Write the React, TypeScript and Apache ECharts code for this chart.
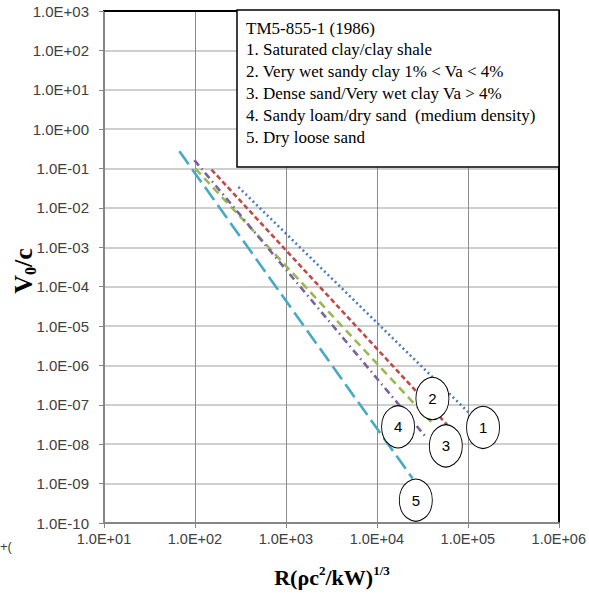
import React, { useEffect, useRef } from 'react';
import * as echarts from 'echarts';

// ---- Data ----
const xTickLabels = ['1.0E+01', '1.0E+02', '1.0E+03', '1.0E+04', '1.0E+05', '1.0E+06'];
const yTickLabels = [
  '1.0E-10', '1.0E-09', '1.0E-08', '1.0E-07', '1.0E-06', '1.0E-05', '1.0E-04',
  '1.0E-03', '1.0E-02', '1.0E-01', '1.0E+00', '1.0E+01', '1.0E+02', '1.0E+03',
];
const xMinExp = 1;
const yMinExp = -10;

const s1X = [300, 105000];
const s1Y = [0.034, 6e-8];
const s2X = [152, 59700];
const s2Y = [0.094, 3.05e-8];
const s3X = [101, 42700];
const s3Y = [0.1, 3.05e-8];
const s4X = [98.6, 34000];
const s4Y = [0.163, 1.6e-8];
const s5X = [67.4, 24700];
const s5Y = [0.275, 1.35e-9];

const circleLabels = ['1', '2', '3', '4', '5'];
const circleX = [147000, 40800, 57300, 17100, 26800];
const circleY = [2.67e-8, 1.45e-7, 9.1e-9, 2.77e-8, 3.8e-10];

const legendLines = [
  'TM5-855-1 (1986)',
  '1. Saturated clay/clay shale',
  '2. Very wet sandy clay 1% < Va < 4%',
  '3. Dense sand/Very wet clay Va > 4%',
  '4. Sandy loam/dry sand  (medium density)',
  '5. Dry loose sand',
];

const seriesDefs = [
  { name: '1', xs: s1X, ys: s1Y, color: '#4a7ebb', dash: [2, 3] },
  { name: '2', xs: s2X, ys: s2Y, color: '#be4b48', dash: [5, 3] },
  { name: '3', xs: s3X, ys: s3Y, color: '#98b954', dash: [8, 5] },
  { name: '4', xs: s4X, ys: s4Y, color: '#7d60a0', dash: [7, 4, 1.5, 4] },
  { name: '5', xs: s5X, ys: s5Y, color: '#46aac5', dash: [16, 6] },
];

const labelFont = "'Liberation Sans', Arial, sans-serif";
const serifFont = "'Liberation Serif', 'Times New Roman', serif";

export default function App() {
  const ref = useRef<HTMLDivElement>(null);
  useEffect(() => {
    if (!ref.current) return;
    const chart = echarts.init(ref.current, undefined, { renderer: 'svg' });
    const gridCfg = { left: 104, top: 11, right: 29, bottom: 72 };
    const option: any = {
      animation: false,
      backgroundColor: '#ffffff',
      grid: gridCfg,
      xAxis: [
        {
          type: 'log',
          logBase: 10,
          min: 10,
          max: 1e6,
          interval: 1,
          axisLine: { show: true, lineStyle: { color: '#868686', width: 2 } },
          axisTick: { show: true, length: 5, lineStyle: { color: '#868686', width: 1 } },
          axisLabel: {
            margin: 8,
            color: '#404040',
            fontSize: 14.5,
            fontFamily: labelFont,
            formatter: (v: number) => xTickLabels[Math.round(Math.log10(v)) - xMinExp] ?? '',
          },
          splitLine: { show: true, lineStyle: { color: '#8c8c8c', width: 1 } },
        },
        {
          type: 'log',
          logBase: 10,
          min: 10,
          max: 1e6,
          position: 'top',
          axisLine: { show: true, onZero: false, lineStyle: { color: '#000', width: 2 } },
          axisTick: { show: false },
          axisLabel: { show: false },
          splitLine: { show: false },
        },
      ],
      yAxis: [
        {
          type: 'log',
          logBase: 10,
          min: 1e-10,
          max: 1e3,
          interval: 1,
          axisLine: { show: true, lineStyle: { color: '#868686', width: 2 } },
          axisTick: { show: true, length: 5, lineStyle: { color: '#868686', width: 1 } },
          axisLabel: {
            margin: 15,
            color: '#404040',
            fontSize: 15,
            fontFamily: labelFont,
            formatter: (v: number) => yTickLabels[Math.round(Math.log10(v)) - yMinExp] ?? '',
          },
          splitLine: { show: true, lineStyle: { color: '#cfcfcf', width: 2 } },
        },
        {
          type: 'log',
          logBase: 10,
          min: 1e-10,
          max: 1e3,
          position: 'right',
          axisLine: { show: true, onZero: false, lineStyle: { color: '#000', width: 2 } },
          axisTick: { show: false },
          axisLabel: { show: false },
          splitLine: { show: false },
        },
      ],
      series: [
        ...seriesDefs.map((s) => ({
          name: s.name,
          type: 'line',
          xAxisIndex: 0,
          yAxisIndex: 0,
          data: s.xs.map((x, i) => [x, s.ys[i]]),
          symbol: 'none',
          showSymbol: false,
          z: 3,
          lineStyle: { color: s.color, width: 2.6, type: s.dash, cap: 'butt', opacity: 1 },
        })),
        {
          type: 'scatter',
          xAxisIndex: 0,
          yAxisIndex: 0,
          z: 5,
          symbol: 'circle',
          symbolSize: [33, 42],
          itemStyle: { color: '#ffffff', borderColor: '#000000', borderWidth: 1, opacity: 1 },
          label: {
            show: true,
            position: 'inside',
            formatter: '{b}',
            color: '#000000',
            textBorderWidth: 0,
            fontSize: 15,
            fontFamily: labelFont,
          },
          data: circleX.map((x, i) => ({ value: [x, circleY[i]], name: circleLabels[i] })),
        },
      ],
      graphic: [
        {
          type: 'rect',
          z: 100,
          shape: { x: 237, y: 10, width: 322, height: 157 },
          style: { fill: '#ffffff', stroke: '#000000', lineWidth: 1.5 },
        },
        ...legendLines.map((t, i) => ({
          type: 'text',
          z: 101,
          x: 246,
          y: 28 + i * 21.9,
          style: {
            text: `{a|${t}}`,
            fill: '#000',
            align: 'left',
            verticalAlign: 'middle',
            rich: {
              a: { fontFamily: serifFont, fontSize: 17, lineHeight: 20, fill: '#000' },
            },
          },
        })),
        {
          type: 'text',
          z: 101,
          x: 332,
          y: 577,
          style: {
            text: '{b|R(ρc}{s|2}{b|/kW)}{s|1/3}',
            align: 'center',
            verticalAlign: 'middle',
            fill: '#000',
            rich: {
              b: { fontFamily: serifFont, fontWeight: 'bold', fontSize: 22, lineHeight: 26, fill: '#000' },
              s: { fontFamily: serifFont, fontWeight: 'bold', fontSize: 13, lineHeight: 13, verticalAlign: 'top', fill: '#000' },
            },
          },
        },
        {
          type: 'text',
          z: 101,
          x: 23,
          y: 271,
          rotation: Math.PI / 2,
          style: {
            text: '{b|V}{s|0}{b|/c}',
            align: 'center',
            verticalAlign: 'middle',
            fill: '#000',
            rich: {
              b: { fontFamily: serifFont, fontWeight: 'bold', fontSize: 26, lineHeight: 30, fill: '#000' },
              s: { fontFamily: serifFont, fontWeight: 'bold', fontSize: 16, lineHeight: 16, verticalAlign: 'bottom', fill: '#000' },
            },
          },
        },
        {
          type: 'text',
          z: 101,
          x: 0,
          y: 546,
          style: {
            text: '+(',
            fill: '#404040',
            fontSize: 13,
            fontFamily: labelFont,
            align: 'left',
            verticalAlign: 'middle',
          },
        },
      ],
    };
    chart.setOption(option);
    return () => chart.dispose();
  }, []);
  return (
    <div
      ref={ref}
      style={{ position: 'fixed', left: 0, top: 0, width: 589, height: 595, background: '#fff' }}
    />
  );
}
